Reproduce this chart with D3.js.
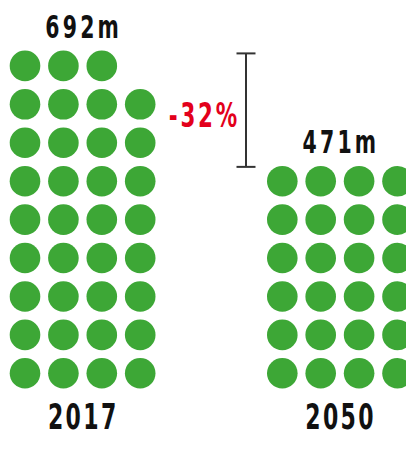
<!DOCTYPE html>
<html>
<head>
<meta charset="utf-8">
<script src="https://cdn.jsdelivr.net/npm/d3@7"></script>
<style>
  html, body { margin: 0; padding: 0; background: #fff; }
  svg { display: block; }
  .lbl { font-family: "DejaVu Sans Condensed", "DejaVu Sans", sans-serif; font-weight: bold; }
</style>
</head>
<body>
<svg id="chart" width="406" height="453"></svg>
<script>
// ---- data ----
const categories = ["2017", "2050"];
const values = [692, 471];
const valueLabels = ["692m", "471m"];
const dotCounts = [35, 24];      // dots drawn per year
const changeLabel = "-32%";

// ---- layout ----
const cols = 4, maxRows = 9;
const r = 15.3;
const svg = d3.select("#chart");

const groupX = d3.scaleOrdinal().domain(categories).range([25, 282.3]);
const colX = d3.scaleLinear().domain([0, cols - 1]).range([0, 3 * 38.4]);
const rowY = d3.scaleLinear().domain([0, maxRows - 1]).range([373.3, 65.9]);

const green = "#3da736";
const red = "#e3001b";

function label(x, y, txt, size, sx, ls, fill) {
  svg.append("g")
    .attr("transform", `translate(${x},${y}) scale(${sx},1)`)
    .append("text")
    .attr("class", "lbl")
    .attr("x", ls / 2)
    .attr("text-anchor", "middle")
    .attr("font-size", size)
    .attr("letter-spacing", ls)
    .attr("fill", fill)
    .text(txt);
}

categories.forEach((cat, gi) => {
  const n = dotCounts[gi];
  const dots = d3.range(n).map(i => ({ row: Math.floor(i / cols), col: i % cols }));
  const topRow = Math.ceil(n / cols) - 1;

  svg.append("g").selectAll("circle")
    .data(dots)
    .join("circle")
    .attr("cx", d => groupX(cat) + colX(d.col))
    .attr("cy", d => rowY(d.row))
    .attr("r", r)
    .attr("fill", green);

  const cx = groupX(cat) + colX((cols - 1) / 2);
  label(cx - 0.5, rowY(topRow) - 28.7 + 0.5, valueLabels[gi], 32, 0.71, 4.5, "#111");
  label(cx - 0.5, 428.5, cat, 36, 0.68, 3.5, "#111");
});

// change bracket
const topA = rowY(Math.ceil(dotCounts[0] / cols) - 1) - r;
const topB = rowY(Math.ceil(dotCounts[1] / cols) - 1) - r;
const bx = 246;
const br = svg.append("g").attr("stroke", "#333").attr("stroke-width", 2);
br.append("line").attr("x1", bx).attr("x2", bx).attr("y1", topA + 2.8).attr("y2", topB + 1);
br.append("line").attr("x1", bx - 9.5).attr("x2", bx + 9.5).attr("y1", topA + 2.8).attr("y2", topA + 2.8);
br.append("line").attr("x1", bx - 9.5).attr("x2", bx + 9.5).attr("y1", topB + 1).attr("y2", topB + 1);

label(203, 127, changeLabel, 34, 0.7, 4, red);
</script>
</body>
</html>
